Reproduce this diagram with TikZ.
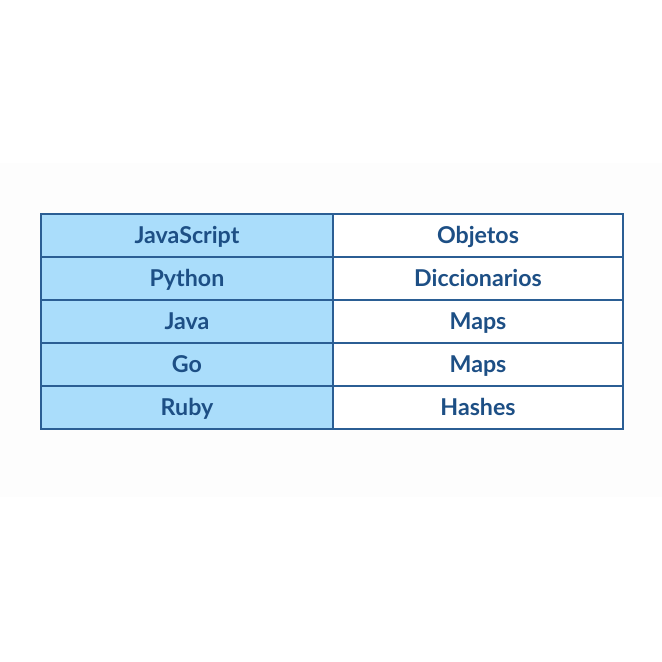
\documentclass[tikz,border=0pt]{standalone}
\usepackage{fontspec}
\setmainfont{Lato}
\definecolor{tabfill}{RGB}{170,221,251}
\definecolor{tabline}{RGB}{43,94,148}
\definecolor{tabtext}{RGB}{29,79,133}
\tikzset{cell/.style={font=\fontsize{17.4}{20}\selectfont\bfseries, text=tabtext, anchor=base}}
\begin{document}
\begin{tikzpicture}[x=0.75pt,y=0.75pt,yscale=-1,xscale=1]
\useasboundingbox (0,0) rectangle (662,662);

%Shape: Rectangle
\draw  [draw opacity=0][fill={rgb, 255:red, 253; green, 253; blue, 253 }  ,fill opacity=1 ] (0,163) -- (662,163) -- (662,497) -- (0,497) -- cycle ;
%Shape: Rectangle
\draw  [draw opacity=0][fill=tabfill  ,fill opacity=1 ] (41,214) -- (333,214) -- (333,429) -- (41,429) -- cycle ;
%Shape: Rectangle
\draw  [draw opacity=0][fill=white  ,fill opacity=1 ] (333,214) -- (623,214) -- (623,429) -- (333,429) -- cycle ;

%Straight Lines
\draw [color=tabline ,line width=1.5]    (41,257) -- (623,257) ;
%Straight Lines
\draw [color=tabline ,line width=1.5]    (41,300) -- (623,300) ;
%Straight Lines
\draw [color=tabline ,line width=1.5]    (41,343) -- (623,343) ;
%Straight Lines
\draw [color=tabline ,line width=1.5]    (41,386) -- (623,386) ;
%Straight Lines
\draw [color=tabline ,line width=1.5]    (333,214) -- (333,429) ;
%Shape: Rectangle
\draw  [color=tabline ,line width=1.5]  (41,214) -- (623,214) -- (623,429) -- (41,429) -- cycle ;

\draw (187,243.5) node [cell] (js) {JavaScript};
\draw (187,286.5) node [cell] (py) {Python};
\draw (187,329.5) node [cell] (java) {Java};
\draw (187,372.5) node [cell] (go) {Go};
\draw (187,415.5) node [cell] (ruby) {Ruby};
\draw (478,243.5) node [cell] (jsval) {Objetos};
\draw (478,286.5) node [cell] (pyval) {Diccionarios};
\draw (478,329.5) node [cell] (javaval) {Maps};
\draw (478,372.5) node [cell] (goval) {Maps};
\draw (478,415.5) node [cell] (rubyval) {Hashes};

\end{tikzpicture}
\end{document}
